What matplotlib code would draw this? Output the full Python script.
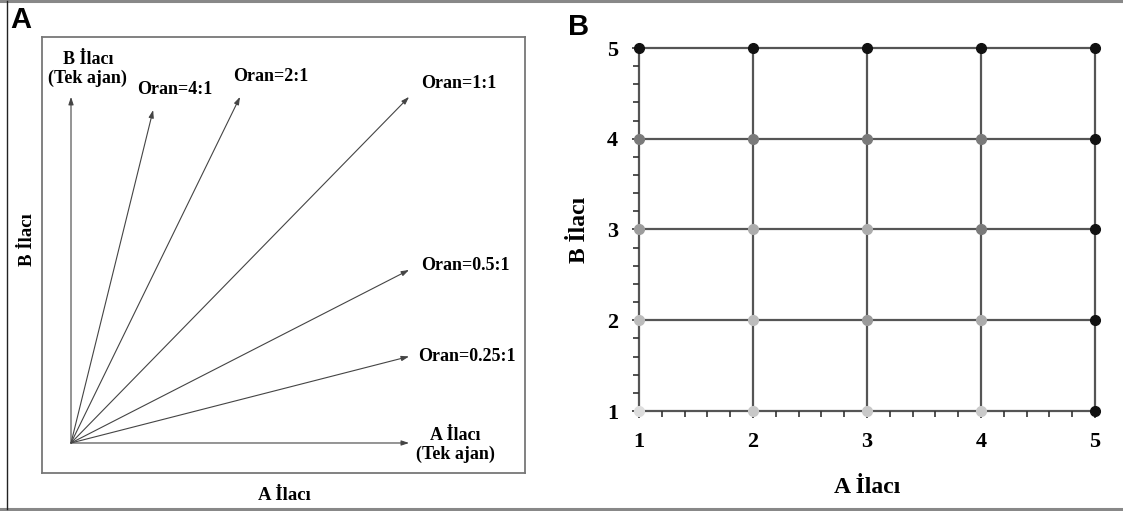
import numpy as np
import matplotlib.pyplot as plt
from matplotlib.lines import Line2D
from matplotlib.ticker import MultipleLocator

# panel A: ratio rays (tip of each arrow, in A / B units)
ray_labels = ["B İlacı\n(Tek ajan)", "Oran=4:1", "Oran=2:1", "Oran=1:1",
              "Oran=0.5:1", "Oran=0.25:1", "A İlacı\n(Tek ajan)"]
ray_x = [0.0, 0.243, 0.5, 1.0, 1.0, 1.0, 1.0]
ray_y = [1.0, 0.962, 1.0, 1.0, 0.5, 0.25, 0.0]

# panel B: 5x5 dose grid, grey level of each point (row = B dose, col = A dose)
doses_a = [1, 2, 3, 4, 5]
doses_b = [1, 2, 3, 4, 5]
shades = [
    ["#dddddd", "#c8c8c8", "#c8c8c8", "#cacaca", "#111111"],  # B=1
    ["#bcbcbc", "#bcbcbc", "#9a9a9a", "#ababab", "#111111"],  # B=2
    ["#9c9c9c", "#acacac", "#acacac", "#7a7a7a", "#111111"],  # B=3
    ["#7a7a7a", "#7a7a7a", "#7a7a7a", "#7a7a7a", "#111111"],  # B=4
    ["#111111", "#111111", "#111111", "#111111", "#111111"],  # B=5
]

W, H = 1123, 511
fig = plt.figure(figsize=(W / 100, H / 100), dpi=100)
serif = "Liberation Serif"
sans = "Liberation Sans"

# outer frame
fig.add_artist(Line2D([0, 1], [1 - 1.5 / H, 1 - 1.5 / H], color="#888888", lw=2.2))
fig.add_artist(Line2D([0, 1], [2.5 / H, 2.5 / H], color="#888888", lw=2.2))
fig.add_artist(Line2D([7 / W, 7 / W], [2.5 / H, 1 - 1.5 / H], color="#222222", lw=1.0))

# ---------------- panel A ----------------
axA = fig.add_axes([42 / W, (H - 473) / H, (525 - 42) / W, (473 - 37) / H])
axA.set_xlim(-0.0858, 1.343)
axA.set_ylim(-0.0867, 1.173)
axA.set_xticks([])
axA.set_yticks([])
for s in axA.spines.values():
    s.set_color("#777777")
    s.set_linewidth(1.3)

for xe, ye in zip(ray_x, ray_y):
    axA.annotate("", xy=(xe, ye), xytext=(0, 0),
                 arrowprops=dict(arrowstyle="-|>,head_length=0.45,head_width=0.15",
                                 color="#444444", lw=0.8, shrinkA=0, shrinkB=0))

lab_pos = [(0.05, 1.081, "center"), (0.308, 1.02, "center"), (0.59, 1.058, "center"),
           (1.035, 1.04, "left"), (1.035, 0.514, "left"), (1.027, 0.251, "left"),
           (1.136, -0.006, "center")]
for lab, (tx, ty, ha) in zip(ray_labels, lab_pos):
    axA.text(tx, ty, lab, ha=ha, va="center", fontsize=13, fontweight="bold",
             family=serif, linespacing=1.1)

fig.text(284 / W, 1 - 495 / H, "A İlacı", ha="center", va="center",
         fontsize=13.5, fontweight="bold", family=serif)
fig.text(27 / W, 1 - 240 / H, "B İlacı", ha="center", va="center", rotation=90,
         fontsize=13.5, fontweight="bold", family=serif)
fig.text(10 / W, 1 - 20 / H, "A", ha="left", va="center", fontsize=21,
         fontweight="bold", family=sans)

# ---------------- panel B ----------------
axB = fig.add_axes([639 / W, (H - 411) / H, (1095 - 639) / W, (411 - 48) / H])
axB.set_xlim(1, 5)
axB.set_ylim(1, 5)
for x in doses_a:
    axB.plot([x, x], [doses_b[0], doses_b[-1]], color="#555555", lw=1.6,
             zorder=1, clip_on=False)
for y in doses_b:
    axB.plot([doses_a[0], doses_a[-1]], [y, y], color="#555555", lw=1.6,
             zorder=1, clip_on=False)
for i, y in enumerate(doses_b):
    for j, x in enumerate(doses_a):
        axB.plot(x, y, "o", ms=7, color=shades[i][j], mec=shades[i][j],
                 clip_on=False, zorder=3)

for s in axB.spines.values():
    s.set_visible(False)
axB.xaxis.set_major_locator(MultipleLocator(1))
axB.yaxis.set_major_locator(MultipleLocator(1))
axB.xaxis.set_minor_locator(MultipleLocator(0.2))
axB.yaxis.set_minor_locator(MultipleLocator(0.2))
axB.tick_params(which="both", direction="out", color="#333333", width=1.2)
axB.tick_params(which="major", length=5, pad=10)
axB.tick_params(which="minor", length=4)
for t in axB.get_xticklabels() + axB.get_yticklabels():
    t.set_fontfamily(serif)
    t.set_fontweight("bold")
    t.set_fontsize(16)
axB.set_xlabel("A İlacı", fontsize=17, fontweight="bold", family=serif, labelpad=18)
axB.set_ylabel("B İlacı", fontsize=17, fontweight="bold", family=serif, labelpad=12)
fig.text(568 / W, 1 - 27 / H, "B", ha="left", va="center", fontsize=21,
         fontweight="bold", family=sans)

fig.savefig("out.png", dpi=100)
